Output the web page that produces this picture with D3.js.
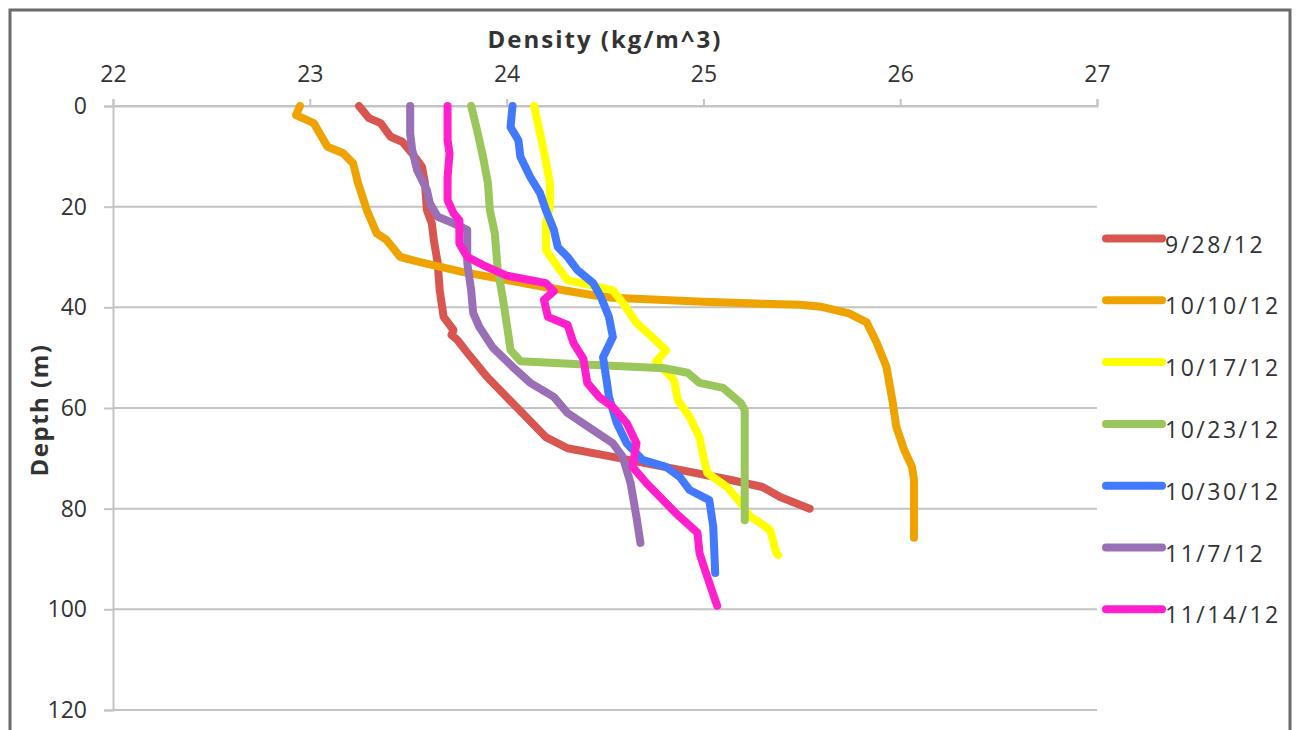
<!DOCTYPE html>
<html>
<head>
<meta charset="utf-8">
<script src="https://cdn.jsdelivr.net/npm/d3@7"></script>
<style>
  body { margin: 0; background: #fff; }
  text { font-family: "Open Sans", sans-serif; fill: #333; }
</style>
</head>
<body>
<div id="chart"></div>
<script>
// series, [density, depth]
var s0928 = [[23.25,0],[23.30,2.4],[23.36,3.4],[23.41,6.1],[23.47,7.1],[23.52,9.4],[23.57,12.1],[23.585,15.3],[23.595,20.7],[23.62,23.3],[23.63,26.6],[23.65,31.2],[23.66,36.6],[23.68,41.9],[23.73,44.5],[23.72,45.5],[23.75,46.5],[23.8,49],[23.90,53.8],[24.0,57.8],[24.08,61],[24.2,65.8],[24.31,68],[24.54,69.7],[24.88,72.3],[25.14,74.3],[25.30,75.7],[25.39,77.7],[25.54,80]];
var s1010 = [[22.95,0],[22.93,1.8],[23.02,3.4],[23.05,5.4],[23.09,8.1],[23.17,9.4],[23.22,11.4],[23.245,15.3],[23.29,20.7],[23.34,25.3],[23.39,26.6],[23.46,30],[23.56,31],[23.78,33],[23.95,34.2],[24.2,36],[24.44,37.6],[24.54,38.1],[25.0,38.9],[25.49,39.5],[25.6,39.9],[25.74,41.2],[25.83,43],[25.88,47],[25.93,51.8],[25.96,58.4],[25.98,63.7],[26.02,68.3],[26.06,71.7],[26.07,74.3],[26.07,85.8]];
var s1017 = [[24.14,0],[24.17,5.4],[24.195,10.1],[24.22,15.3],[24.22,20],[24.2,23.3],[24.2,28.6],[24.26,32],[24.31,34.6],[24.54,36.6],[24.59,39.1],[24.66,43.1],[24.74,45.9],[24.81,48.5],[24.76,50.8],[24.85,54.4],[24.87,58.4],[24.93,61.8],[24.98,65.8],[25.0,69.7],[25.02,72.9],[25.12,75.7],[25.19,78.9],[25.24,81.7],[25.27,82.3],[25.34,84.3],[25.37,88.8],[25.38,89.2]];
var s1023 = [[23.82,0],[23.85,4.8],[23.88,10.1],[23.905,15.3],[23.915,20.7],[23.94,25.3],[23.955,32.6],[23.98,38],[24.0,43.1],[24.02,48.5],[24.07,50.7],[24.37,51.3],[24.80,52.1],[24.92,53],[24.98,55],[25.10,56],[25.19,59],[25.21,60.4],[25.21,82.3]];
var s1030 = [[24.03,0],[24.02,4.2],[24.06,6.8],[24.07,10.1],[24.12,14.1],[24.17,17.3],[24.2,20.7],[24.24,24.6],[24.26,28],[24.31,30],[24.36,32.6],[24.44,35.2],[24.48,38],[24.52,41.9],[24.54,45.9],[24.49,49.9],[24.51,55],[24.52,57.8],[24.56,63],[24.61,67],[24.69,70.3],[24.81,71.7],[24.88,73.7],[24.93,76.3],[25.03,78.3],[25.05,83.6],[25.06,92.8]];
var s1107 = [[23.51,0],[23.51,5.4],[23.52,8.7],[23.545,12.7],[23.595,16.7],[23.61,19.3],[23.65,22],[23.73,23.3],[23.80,24.6],[23.80,31.2],[23.82,36.6],[23.83,41.1],[23.86,43.8],[23.93,48],[24.03,51.8],[24.12,55],[24.24,57.8],[24.31,61],[24.44,64.4],[24.54,67],[24.59,69.7],[24.63,74.9],[24.66,81.7],[24.68,86.8]];
var s1114 = [[23.70,0],[23.70,6.8],[23.71,9.4],[23.70,14.1],[23.70,18.7],[23.73,21.3],[23.76,22.7],[23.76,27.3],[23.80,30],[23.88,31.6],[24.0,33.7],[24.2,35.2],[24.24,36.8],[24.19,38.5],[24.21,41.9],[24.31,43.5],[24.34,47.1],[24.39,50.2],[24.41,55],[24.47,57.8],[24.54,59.8],[24.61,63],[24.66,67],[24.64,71.7],[24.71,74.9],[24.76,76.9],[24.86,80.9],[24.97,84.8],[24.98,88.8],[25.02,93.6],[25.07,99.3]];

var dates = ["9/28/12", "10/10/12", "10/17/12", "10/23/12", "10/30/12", "11/7/12", "11/14/12"];
var seriesData = [s0928, s1010, s1017, s1023, s1030, s1107, s1114];
var colors = ["#d8564f", "#efa300", "#ffff00", "#9bc65c", "#4279ff", "#9970b6", "#ff1fcc"];
var xTicks = [22, 23, 24, 25, 26, 27];
var yTicks = [0, 20, 40, 60, 80, 100, 120];

var svgWidth = 1297;
var svgHeight = 730;

var svg = d3.select("#chart")
  .append("svg")
  .attr("width", svgWidth)
  .attr("height", svgHeight);

// outer frame
svg.append("rect")
  .attr("x", 10)
  .attr("y", 10)
  .attr("width", 1280)
  .attr("height", 740)
  .attr("fill", "none")
  .attr("stroke", "#6b6b6b")
  .attr("stroke-width", 3);

var x = d3.scaleLinear().domain([22, 27]).range([113, 1097]);
var y = d3.scaleLinear().domain([0, 120]).range([106, 710]);

// gridlines
svg.append("g")
  .selectAll("line")
  .data(yTicks)
  .enter()
  .append("line")
  .attr("x1", x(22))
  .attr("x2", x(27))
  .attr("y1", d => y(d))
  .attr("y2", d => y(d))
  .attr("stroke", "#c4c4c4")
  .attr("stroke-width", 2);

// left axis
var yAxis = svg.append("g")
  .attr("transform", `translate(${x(22)},0)`)
  .call(d3.axisLeft(y).tickValues(yTicks).tickFormat(d3.format("d")).tickSize(9).tickPadding(17));
yAxis.select(".domain").attr("stroke", "#c4c4c4").attr("stroke-width", 2);
yAxis.selectAll(".tick line").attr("stroke", "#c4c4c4").attr("stroke-width", 2);
yAxis.selectAll(".tick text")
  .attr("font-size", 23)
  .attr("fill", "#333")
  .style("font-family", "'Open Sans', sans-serif");

// top axis
var xAxis = svg.append("g")
  .attr("transform", `translate(0,${y(0)})`)
  .call(d3.axisTop(x).tickValues(xTicks).tickFormat(d3.format("d")).tickSize(7).tickPadding(17));
xAxis.select(".domain").attr("stroke", "#c4c4c4").attr("stroke-width", 2);
xAxis.selectAll(".tick line").attr("stroke", "#c4c4c4").attr("stroke-width", 2);
xAxis.selectAll(".tick text")
  .attr("font-size", 23)
  .attr("fill", "#333")
  .style("font-family", "'Open Sans', sans-serif");

// axis titles
svg.append("text")
  .attr("x", 605)
  .attr("y", 48)
  .attr("text-anchor", "middle")
  .attr("font-size", 24)
  .attr("font-weight", "bold")
  .attr("letter-spacing", 2)
  .text("Density (kg/m^3)");

svg.append("text")
  .attr("transform", "translate(48,410) rotate(-90)")
  .attr("text-anchor", "middle")
  .attr("font-size", 24)
  .attr("font-weight", "bold")
  .attr("letter-spacing", 1.5)
  .text("Depth (m)");

// profiles
var line = d3.line()
  .x(d => x(d[0]))
  .y(d => y(d[1]));

svg.append("g")
  .selectAll("path")
  .data(seriesData)
  .enter()
  .append("path")
  .attr("d", line)
  .attr("fill", "none")
  .attr("stroke", (d, i) => colors[i])
  .attr("stroke-width", 8)
  .attr("stroke-linejoin", "round")
  .attr("stroke-linecap", "round");

// legend
var legend = svg.append("g")
  .selectAll("g")
  .data(dates)
  .enter()
  .append("g")
  .attr("transform", (d, i) => `translate(1104,${238.5 + i * 61.8})`);

legend.append("line")
  .attr("x1", 2)
  .attr("x2", 58)
  .attr("stroke", (d, i) => colors[i])
  .attr("stroke-width", 8)
  .attr("stroke-linecap", "round");

legend.append("text")
  .attr("x", 61)
  .attr("y", 14)
  .attr("font-size", 23)
  .attr("letter-spacing", 2.5)
  .text(d => d);
</script>
</body>
</html>
